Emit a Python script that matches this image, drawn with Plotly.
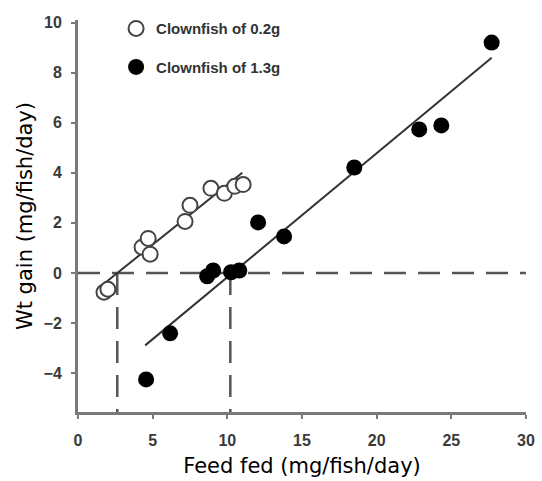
import plotly.graph_objects as go

# Data
small_x = [1.74, 2.0, 4.29, 4.7, 4.83, 7.17, 7.5, 8.9, 9.8, 10.5, 11.06]
small_y = [-0.77, -0.65, 1.03, 1.38, 0.75, 2.06, 2.7, 3.38, 3.18, 3.46, 3.53]

large_x = [4.56, 6.17, 8.65, 9.05, 10.25, 10.8, 12.06, 13.8, 18.5, 22.85, 24.33, 27.7]
large_y = [-4.25, -2.41, -0.13, 0.1, 0.03, 0.1, 2.02, 1.46, 4.21, 5.73, 5.89, 9.2]

# fitted lines (slope, intercept, x extent)
small_fit = dict(slope=0.478, intercept=-1.257, x=[1.8, 11.0])
large_fit = dict(slope=0.4948, intercept=-5.117, x=[4.5, 27.7])

# maintenance intercepts (dashed reference lines)
maint_x = [2.63, 10.2]

x_ticks = [0, 5, 10, 15, 20, 25, 30]
y_ticks = [-4, -2, 0, 2, 4, 6, 8, 10]
x_range = [0, 30]
y_range = [-5.55, 10.1]

labels = ["Clownfish of 0.2g", "Clownfish of 1.3g"]

fig = go.Figure()

dash_style = dict(color="#555555", width=2.5, dash="22px,12px")

# horizontal zero line
fig.add_trace(go.Scatter(x=x_range, y=[0, 0], mode="lines", line=dash_style,
                         showlegend=False, hoverinfo="skip"))
for xv in maint_x:
    fig.add_trace(go.Scatter(x=[xv, xv], y=[0, y_range[0]], mode="lines", line=dash_style,
                             showlegend=False, hoverinfo="skip"))

for fit in (small_fit, large_fit):
    fig.add_trace(go.Scatter(
        x=fit["x"], y=[fit["slope"] * v + fit["intercept"] for v in fit["x"]],
        mode="lines", line=dict(color="#333333", width=2), showlegend=False, hoverinfo="skip"))

fig.add_trace(go.Scatter(
    x=small_x, y=small_y, mode="markers", name=labels[0], legendgroup="a",
    marker=dict(symbol="circle", size=15, color="white", line=dict(color="#444444", width=2))))
fig.add_trace(go.Scatter(
    x=large_x, y=large_y, mode="markers", name=labels[1], legendgroup="b",
    marker=dict(symbol="circle", size=16, color="black", line=dict(color="black", width=0))))

tick_font = dict(family="Liberation Sans, Arial", size=16, color="#3a3a3a", weight="bold")
axis_common = dict(showline=True, linecolor="#7a7a7a", linewidth=3, ticks="outside",
                   ticklen=4, tickwidth=1.5, tickcolor="#7a7a7a", showgrid=False,
                   zeroline=False, automargin=False)
title_font = dict(family="DejaVu Sans, Verdana", size=21, color="black")

fig.update_layout(
    width=542, height=481,
    margin=dict(l=78, r=16, t=20, b=69),
    paper_bgcolor="white", plot_bgcolor="white",
    xaxis=dict(range=x_range, tickvals=x_ticks, ticklabelstandoff=8,
               title=dict(text="Feed fed (mg/fish/day)", standoff=11, font=title_font),
               **axis_common),
    yaxis=dict(range=y_range, tickvals=y_ticks, ticklabelstandoff=6,
               title=dict(text="Wt gain (mg/fish/day)", standoff=6, font=title_font),
               **axis_common),
    legend=dict(x=0.085, y=1.02, xanchor="left", yanchor="top", bgcolor="rgba(0,0,0,0)",
                font=dict(family="Liberation Sans", size=15, color="#333333", weight="bold"),
                traceorder="grouped", tracegroupgap=16),
    showlegend=True,
)
fig.update_xaxes(tickfont=tick_font)
fig.update_yaxes(tickfont=tick_font)

fig.write_html("out.html", config={"displayModeBar": False},
               post_script="document.body.style.margin='0';")
